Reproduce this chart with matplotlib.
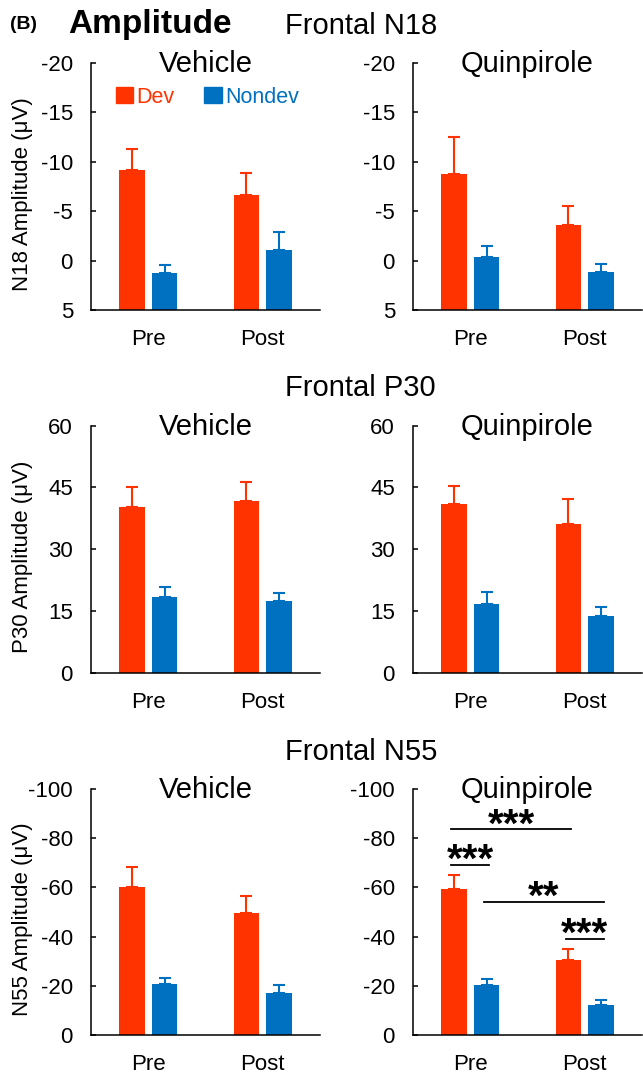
import matplotlib.pyplot as plt
from matplotlib.patches import Patch

plt.rcParams['font.family'] = ['Liberation Sans', 'DejaVu Sans']
plt.rcParams['axes.unicode_minus'] = False

phases = ['Pre', 'Post']
groups = ['Vehicle', 'Quinpirole']
series = ['Dev', 'Nondev']
colors = ['#FF3300', '#0070C0']

# mean amplitudes (uV), [Vehicle, Quinpirole] x [Pre, Post]
n18_dev = [[-9.2, -6.6], [-8.7, -3.6]]
n18_dev_sem = [[2.1, 2.2], [3.8, 1.9]]
n18_nondev = [[1.3, -1.1], [-0.4, 1.2]]
n18_nondev_sem = [[0.85, 1.8], [1.1, 0.9]]

p30_dev = [[40.3, 41.7], [41.0, 36.2]]
p30_dev_sem = [[4.9, 4.6], [4.4, 6.1]]
p30_nondev = [[18.5, 17.5], [16.6, 13.8]]
p30_nondev_sem = [[2.4, 1.9], [3.0, 2.2]]

n55_dev = [[-60.0, -49.7], [-59.2, -30.5]]
n55_dev_sem = [[8.3, 6.7], [5.8, 4.5]]
n55_nondev = [[-20.7, -17.1], [-20.3, -12.2]]
n55_nondev_sem = [[2.6, 3.1], [2.3, 2.2]]

# significance in N55 Quinpirole: (phase, series) pairs, level, label
sig_pairs = [((0, 0), (1, 0)), ((0, 0), (0, 1)), ((0, 1), (1, 1)), ((1, 0), (1, 1))]
sig_levels = [-83.6, -69.1, -54.2, -38.9]
sig_labels = ['***', '***', '**', '***']

components = [
    dict(name='N18', dev=n18_dev, dsem=n18_dev_sem, nd=n18_nondev, nsem=n18_nondev_sem,
         ylim=(5, -20), ticks=[-20, -15, -10, -5, 0, 5], base=5, up=False),
    dict(name='P30', dev=p30_dev, dsem=p30_dev_sem, nd=p30_nondev, nsem=p30_nondev_sem,
         ylim=(0, 60), ticks=[0, 15, 30, 45, 60], base=0, up=True),
    dict(name='N55', dev=n55_dev, dsem=n55_dev_sem, nd=n55_nondev, nsem=n55_nondev_sem,
         ylim=(0, -100), ticks=[-100, -80, -60, -40, -20, 0], base=0, up=False),
]

W, H = 643, 1074
fig = plt.figure(figsize=(W / 100, H / 100), dpi=100)

row_top = [62.7, 425.7, 789]
row_bot = [310, 672.7, 1035]
col_left = [91, 413]
col_w = 229
title_base = [34, 396, 760]

bw = 0.222
off = 0.143

for r, comp in enumerate(components):
    fig.text(285 / W, 1 - title_base[r] / H, 'Frontal ' + comp['name'],
             fontsize=21, va='baseline', ha='left')
    for c, grp in enumerate(groups):
        ax = fig.add_axes([col_left[c] / W, 1 - row_bot[r] / H,
                           col_w / W, (row_bot[r] - row_top[r]) / H])
        for s, (vals, sems) in enumerate([(comp['dev'][c], comp['dsem'][c]),
                                          (comp['nd'][c], comp['nsem'][c])]):
            xs = [i + (2 * s - 1) * off for i in range(len(phases))]
            ax.bar(xs, [v - comp['base'] for v in vals], bottom=comp['base'],
                   width=bw, color=colors[s], linewidth=0, label=series[s])
            zeros = [0] * len(sems)
            yerr = [zeros, sems] if comp['up'] else [sems, zeros]
            ax.errorbar(xs, vals, yerr=yerr, fmt='none', ecolor=colors[s],
                        elinewidth=1.5, capsize=4.5, capthick=1.5)
        ax.set_xlim(-0.5, 1.5)
        ax.set_ylim(*comp['ylim'])
        ax.set_yticks(comp['ticks'])
        ax.set_xticks(range(len(phases)))
        ax.set_xticklabels(phases)
        for sp in ['top', 'right']:
            ax.spines[sp].set_visible(False)
        for sp in ['left', 'bottom']:
            ax.spines[sp].set_linewidth(1.1)
        ax.tick_params(axis='y', direction='in', length=3.6, width=1.1,
                       labelsize=16, pad=13)
        ax.tick_params(axis='x', length=0, labelsize=16, pad=14)
        ax.annotate(grp, xy=(0.5, 1), xycoords='axes fraction', xytext=(0, -6.5),
                    textcoords='offset points', ha='center', va='baseline', fontsize=21)
        if c == 0:
            ax.set_ylabel(comp['name'] + ' Amplitude (μV)', fontsize=16)
            ax.yaxis.set_label_coords(-0.253, 0.47)
        if r == 0 and c == 0:
            handles = [Patch(color=colors[0]), Patch(color=colors[1])]
            ax.legend(handles, series, loc='center left', bbox_to_anchor=(0.108, 0.861),
                      ncol=2, frameon=False, fontsize=15.5, handlelength=0.8,
                      handleheight=0.8, handletextpad=0.15, columnspacing=1.4,
                      borderpad=0, borderaxespad=0, labelcolor=colors)
        if r == 2 and c == 1:
            for (a, b), lvl, lab in zip(sig_pairs, sig_levels, sig_labels):
                xa = a[0] + (2 * a[1] - 1) * off - 0.025
                xb = b[0] + (2 * b[1] - 1) * off + 0.025
                ax.plot([xa, xb], [lvl, lvl], color='black', lw=1.3)
                ax.annotate(lab, xy=((xa + xb) / 2, lvl), xytext=(0, -5),
                            textcoords='offset points', ha='center', va='baseline',
                            fontsize=29, fontweight='bold')

fig.text(10 / W, 1 - 29 / H, '(B)', fontsize=14, fontweight='bold', va='baseline')
fig.text(68 / W, 1 - 33 / H, 'Amplitude', fontsize=24, fontweight='bold', va='baseline')

fig.savefig('out.png', dpi=100)
